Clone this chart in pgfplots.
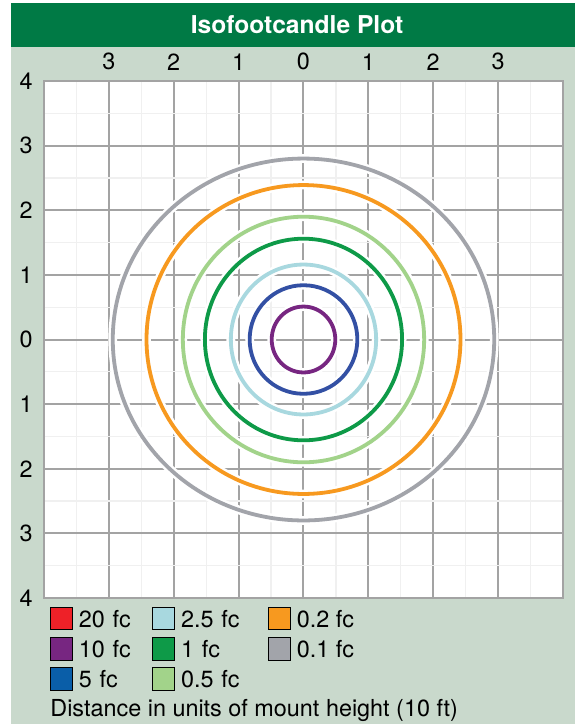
\documentclass[border=0pt]{standalone}
\usepackage{fontspec}
\setmainfont{TeX Gyre Heros}
\usepackage{pgfplots}
\pgfplotsset{compat=1.18}
\definecolor{panel}{HTML}{C9D9CC}
\definecolor{titlegreen}{HTML}{007A45}
\definecolor{gridgray}{HTML}{A3A3A3}
\definecolor{minorgray}{HTML}{F0F0F0}
\definecolor{cRed}{HTML}{EE2128}
\definecolor{cPurple}{HTML}{772681}
\definecolor{cBlue}{HTML}{0A5EA8}
\definecolor{cBlueLine}{HTML}{3350A4}
\definecolor{cLightBlue}{HTML}{A8D8DF}
\definecolor{cGreen}{HTML}{0E9A48}
\definecolor{cLightGreen}{HTML}{A2D38A}
\definecolor{cOrange}{HTML}{F7991F}
\definecolor{cGray}{HTML}{A2A4AA}
\begin{document}
\begin{tikzpicture}[font=\fontsize{11.7}{14}\selectfont]
\fill[white] (0,0) rectangle (287.5pt,-362pt);
\fill[panel] (5.5pt,-1.7pt) rectangle (287.5pt,-362pt);
\fill[titlegreen] (5.5pt,-1.7pt) rectangle (287.5pt,-23.4pt);
\node[anchor=base, text=white, font=\fontsize{12.3}{14}\selectfont\bfseries, inner sep=0pt] at (148.5pt,-16.6pt) {Isofootcandle Plot};
\begin{axis}[
  at={(22pt,-299pt)}, anchor=south west,
  scale only axis, width=259.5pt, height=258.5pt,
  xmin=-4, xmax=4, ymin=-4, ymax=4,
  axis background/.style={fill=white},
  axis line style={draw=gridgray, line width=1pt},
  xtick={-3,-2,-1,0,1,2,3}, xticklabels={3,2,1,0,1,2,3}, xticklabel pos=upper,
  ytick={-4,-3,-2,-1,0,1,2,3,4}, yticklabels={4,3,2,1,0,1,2,3,4},
  minor xtick={-3.5,-2.5,-1.5,-0.5,0.5,1.5,2.5,3.5},
  minor ytick={-3.5,-2.5,-1.5,-0.5,0.5,1.5,2.5,3.5},
  grid=both,
  major grid style={draw=gridgray, line width=1pt},
  minor grid style={draw=minorgray, line width=0.6pt},
  major tick length=0pt, minor tick length=0pt,
  xticklabel style={anchor=south, inner sep=0pt, yshift=5.15pt},
  yticklabel style={anchor=east, inner sep=0pt, xshift=-5.5pt},
  /pgf/number format/assume math mode=true,
  legend columns=3,
  legend style={at={(0.0106,-0.0174)}, anchor=north west, draw=none, fill=none,
    inner sep=0pt, outer sep=0pt, column sep=0pt, row sep=3.5pt,
    nodes={inner sep=0pt, text depth=0pt}, cells={anchor=west},
    font=\fontsize{11.7}{14}\selectfont},
  legend image code/.code={\fill[#1] (0pt,-5.6pt) rectangle (11.25pt,5.6pt); \path (14.25pt,0pt);},
  ring/.style={smooth cycle, tension=1, forget plot},
]
% white halos
\addplot[white, line width=4.4pt, ring] coordinates {(2.94,0) (0,2.80) (-2.94,0) (0,-2.80)};
\addplot[white, line width=4.4pt, ring] coordinates {(2.42,0) (0,2.39) (-2.42,0) (0,-2.39)};
\addplot[white, line width=4.4pt, ring] coordinates {(1.86,0) (0,1.90) (-1.86,0) (0,-1.90)};
\addplot[white, line width=4.4pt, ring] coordinates {(1.52,0) (0,1.56) (-1.52,0) (0,-1.56)};
\addplot[white, line width=4.4pt, ring] coordinates {(1.12,0) (0,1.16) (-1.12,0) (0,-1.16)};
\addplot[white, line width=4.4pt, ring] coordinates {(0.83,0) (0,0.84) (-0.83,0) (0,-0.84)};
\addplot[white, line width=4.4pt, ring] coordinates {(0.49,0) (0,0.51) (-0.49,0) (0,-0.51)};
% contours
\addplot[cGray, line width=1.9pt, ring] coordinates {(2.94,0) (0,2.80) (-2.94,0) (0,-2.80)};
\addplot[cOrange, line width=1.9pt, ring] coordinates {(2.42,0) (0,2.39) (-2.42,0) (0,-2.39)};
\addplot[cLightGreen, line width=1.9pt, ring] coordinates {(1.86,0) (0,1.90) (-1.86,0) (0,-1.90)};
\addplot[cGreen, line width=1.9pt, ring] coordinates {(1.52,0) (0,1.56) (-1.52,0) (0,-1.56)};
\addplot[cLightBlue, line width=1.9pt, ring] coordinates {(1.12,0) (0,1.16) (-1.12,0) (0,-1.16)};
\addplot[cBlueLine, line width=1.9pt, ring] coordinates {(0.83,0) (0,0.84) (-0.83,0) (0,-0.84)};
\addplot[cPurple, line width=1.9pt, ring] coordinates {(0.49,0) (0,0.51) (-0.49,0) (0,-0.51)};
% legend
\addlegendimage{fill=cRed}\addlegendentry[text width=36.5pt]{20 fc}
\addlegendimage{fill=cLightBlue}\addlegendentry[text width=43.25pt]{2.5 fc}
\addlegendimage{fill=cOrange}\addlegendentry{0.2 fc}
\addlegendimage{fill=cPurple}\addlegendentry[text width=36.5pt]{10 fc}
\addlegendimage{fill=cGreen}\addlegendentry[text width=43.25pt]{1 fc}
\addlegendimage{fill=cGray}\addlegendentry{0.1 fc}
\addlegendimage{fill=cBlue}\addlegendentry[text width=36.5pt]{5 fc}
\addlegendimage{fill=cLightGreen}\addlegendentry[text width=43.25pt]{0.5 fc}
\end{axis}
\node[anchor=base west, inner sep=0pt] at (25pt,-358pt) {Distance in units of mount height (10 ft)};
\pgfresetboundingbox
\useasboundingbox (0,0) rectangle (287.5pt,-362pt);
\end{tikzpicture}
\end{document}
